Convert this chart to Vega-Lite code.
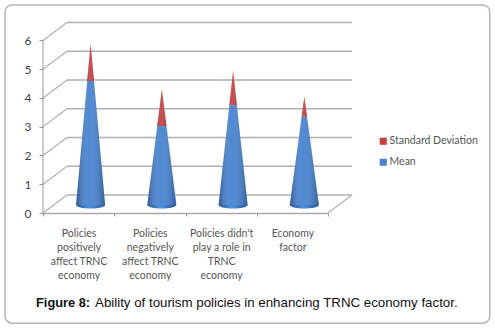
{
 "$schema":"https://vega.github.io/schema/vega-lite/v6.json",
 "width":285,"height":191,
 "autosize":{"type":"none"},
 "padding":{"left":43,"top":22,"right":167,"bottom":117},
 "background":"white",
 "view":{"stroke":null},
 "datasets":{
  "cones":[
   {"category":"Policies positively affect TRNC economy","order":0.5,"series":"Mean","value":4.31},
   {"category":"Policies positively affect TRNC economy","order":0.5,"series":"Standard Deviation","value":1.31},
   {"category":"Policies negatively affect TRNC economy","order":1.5,"series":"Mean","value":2.75},
   {"category":"Policies negatively affect TRNC economy","order":1.5,"series":"Standard Deviation","value":1.28},
   {"category":"Policies didn't play a role in TRNC economy","order":2.5,"series":"Mean","value":3.47},
   {"category":"Policies didn't play a role in TRNC economy","order":2.5,"series":"Standard Deviation","value":1.2},
   {"category":"Economy factor","order":3.5,"series":"Mean","value":3.07},
   {"category":"Economy factor","order":3.5,"series":"Standard Deviation","value":0.7}
  ],
  "ticks":[{"tick":0},{"tick":1},{"tick":2},{"tick":3},{"tick":4},{"tick":5},{"tick":6}]
 },
 "layer":[
  {"data":{"values":[{"a":1}]},
   "mark":{"type":"rect","fill":"transparent","stroke":"#b5b5b5","strokeWidth":1.5,"cornerRadius":7},
   "encoding":{
    "x":{"datum":-0.533,"type":"quantitative","scale":{"domain":[0,4],"nice":false,"zero":false},
      "axis":{"tickCount":4,"title":null,"grid":false,"domainColor":"#aaa","domainWidth":1.5,"tickColor":"#999","tickSize":3,"labelOffset":35.6,"labelAlign":"center","labelBaseline":"top","labelPadding":12,"labelFont":"Lato","labelFontSize":10.5,"labelColor":"#555","labelLineHeight":14,"labelOverlap":false,"labelBound":false,"labelFlush":false,
       "labelExpr":"[['Policies','positively','affect TRNC','economy'],['Policies','negatively','affect TRNC','economy'],['Policies didn\\'t','play a role in','TRNC','economy'],['Economy','factor'],''][datum.value]"}},
    "x2":{"datum":6.27},
    "y":{"datum":7.23,"type":"quantitative","scale":{"domain":[0,6.64],"nice":false,"zero":false},
      "axis":{"tickCount":6,"title":null,"grid":false,"domain":false,"tickColor":"#999","tickSize":4,"labelFont":"Lato","labelFontSize":12,"labelColor":"#444","labelPadding":8,"labelOverlap":false,"labelBound":false,"labelFlush":false}},
    "y2":{"datum":-3.83}
   }},
  {"data":{"name":"ticks"},
   "mark":{"type":"rule","color":"#b0b0b0","strokeWidth":1.5,"xOffset":24,"x2Offset":24,"yOffset":-18},
   "encoding":{"x":{"datum":0,"type":"quantitative"},"x2":{"datum":4},"y":{"field":"tick","type":"quantitative"}}},
  {"data":{"name":"ticks"},
   "mark":{"type":"rule","color":"#b0b0b0","strokeWidth":1.2,"x2Offset":24,"y2Offset":-18},
   "encoding":{"x":{"datum":0,"type":"quantitative"},"x2":{"datum":0},"y":{"field":"tick","type":"quantitative"},"y2":{"field":"tick"}}},
  {"data":{"values":[{"tick":0}]},
   "mark":{"type":"rule","color":"#b0b0b0","strokeWidth":1.2,"x2Offset":24,"y2Offset":-18},
   "encoding":{"x":{"datum":4,"type":"quantitative"},"x2":{"datum":4},"y":{"field":"tick","type":"quantitative"},"y2":{"field":"tick"}}},
  {"data":{"values":[{"a":1}]},
   "mark":{"type":"rule","color":"#999","strokeWidth":1},
   "encoding":{"x":{"datum":0,"type":"quantitative"},"y":{"datum":0,"type":"quantitative"},"y2":{"datum":6}}},
  {"data":{"name":"cones"},
   "transform":[
    {"stack":"value","groupby":["category"],"sort":[{"field":"series","order":"ascending"}],"as":["base","top"]},
    {"joinaggregate":[{"op":"sum","field":"value","as":"peak"}],"groupby":["category"]},
    {"fold":["base","top"],"as":["edge","level"]},
    {"calculate":"0.2035*(1-datum.level/datum.peak)","as":"half"},
    {"calculate":"datum.order+0.168-datum.half","as":"left"},
    {"calculate":"datum.order+0.168+datum.half","as":"right"},
    {"calculate":"datum.level+0.278","as":"lift"}
   ],
   "layer":[
    {"transform":[{"filter":"datum.series==='Mean' && datum.edge==='base'"}],
     "mark":{"type":"point","filled":true,"shape":"M-1,0 A1,0.24 0 0 0 1,0 Z","size":841,"opacity":1,"strokeWidth":0,"xOffset":12,"yOffset":-8,"fill":{"gradient":"linear","x1":0,"x2":1,"y1":0,"y2":0,"stops":[{"offset":0,"color":"#2a5a9c"},{"offset":0.45,"color":"#4f90e0"},{"offset":1,"color":"#2a5a9c"}]}},
     "encoding":{"x":{"field":"order","type":"quantitative"},"y":{"field":"level","type":"quantitative"}}},
    {"mark":{"type":"area","orient":"horizontal"},
     "encoding":{
      "y":{"field":"lift","type":"quantitative"},
      "x":{"field":"left","type":"quantitative"},
      "x2":{"field":"right"},
      "detail":{"field":"category"},
      "color":{"field":"series","type":"nominal","scale":{"domain":["Standard Deviation","Mean"],"range":["#c8403c","#4582cf"]},
       "legend":{"title":null,"orient":"none","legendX":335,"legendY":114,"symbolType":"square","symbolSize":50,"symbolStrokeWidth":0,"labelFont":"Lato","labelFontSize":10.5,"labelColor":"#555","rowPadding":10,"labelOffset":1}}
     }},
    {"mark":{"type":"area","orient":"horizontal","fill":{"gradient":"linear","x1":0,"x2":1,"y1":0,"y2":0,"stops":[{"offset":0,"color":"rgba(10,25,70,0.4)"},{"offset":0.45,"color":"rgba(255,255,255,0.05)"},{"offset":1,"color":"rgba(10,25,70,0.35)"}]}},
     "encoding":{
      "y":{"field":"lift","type":"quantitative"},
      "x":{"field":"left","type":"quantitative"},
      "x2":{"field":"right"},
      "detail":[{"field":"category"},{"field":"series"}]
     }}
   ]},
  {"data":{"values":[{"t":"Figure 8:"}]},
   "mark":{"type":"text","align":"left","baseline":"middle","font":"Liberation Sans","fontSize":12.8,"fontWeight":"bold","color":"#111"},
   "encoding":{"x":{"datum":-0.098,"type":"quantitative"},"y":{"datum":-3.13,"type":"quantitative"},"text":{"field":"t"}}},
  {"data":{"values":[{"t":"Ability of tourism policies in enhancing TRNC economy factor."}]},
   "mark":{"type":"text","align":"left","baseline":"middle","font":"Liberation Sans","fontSize":13.3,"color":"#111"},
   "encoding":{"x":{"datum":0.73,"type":"quantitative"},"y":{"datum":-3.13,"type":"quantitative"},"text":{"field":"t"}}}
 ]
}
